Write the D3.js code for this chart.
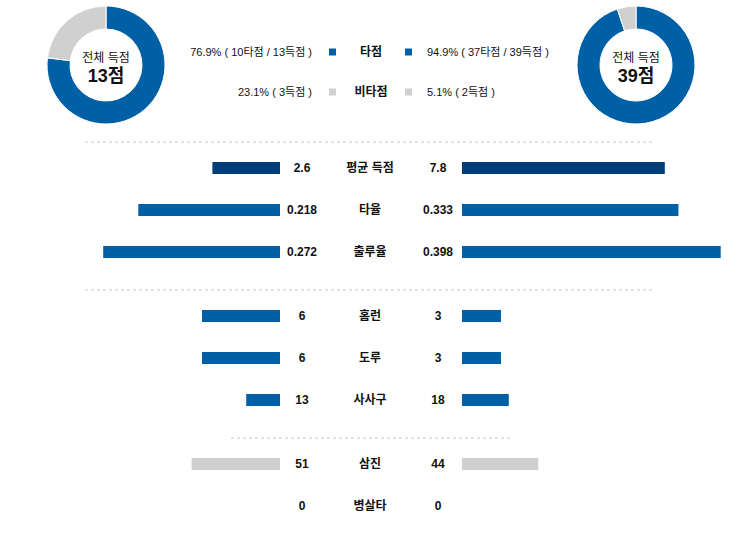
<!DOCTYPE html>
<html lang="ko">
<head>
<meta charset="UTF-8">
<script src="https://cdn.jsdelivr.net/npm/d3@7"></script>
<style>
    body { margin: 0; background: #fff; }
    svg text { font-family: "Liberation Sans", "Noto Sans CJK KR", sans-serif; fill: #111; }
    .val, .lbl { font-size: 12px; font-weight: bold; }
    .leg { font-size: 11px; }
</style>
</head>
<body>
<svg id="chart" width="744" height="560"></svg>
<script>
    // donut data: 타점 / 비타점 per team
    const leftPie = [10, 3];
    const rightPie = [37, 2];
    const leftTotal = 13, rightTotal = 39;
    const legendNames = ["타점", "비타점"];
    const leftLegend = ["76.9% ( 10타점 / 13득점 )", "23.1% ( 3득점 )"];
    const rightLegend = ["94.9% ( 37타점 / 39득점 )", "5.1% ( 2득점 )"];

    // comparison rows
    const labels = ["평균 득점", "타율", "출루율", "홈런", "도루", "사사구", "삼진", "병살타"];
    const leftVals = [2.6, 0.218, 0.272, 6, 6, 13, 51, 0];
    const rightVals = [7.8, 0.333, 0.398, 3, 3, 18, 44, 0];
    const formats = [".1f", ".3f", ".3f", "d", "d", "d", "d", "d"];
    const maxVals = [10, 0.4, 0.4, 20, 20, 100, 150, 150];
    const groups = [0, 0, 0, 1, 1, 1, 2, 2];

    const blue = "#0060a5", navy = "#003e77", gray = "#d0d0d0";
    const rowColors = [navy, blue, blue, blue, blue, blue, gray, gray];

    const svg = d3.select("#chart");

    // donuts
    const pie = d3.pie().sort(null);
    const arc = d3.arc().innerRadius(36).outerRadius(59);

    function donut(cx, values, total) {
        const g = svg.append("g").attr("transform", `translate(${cx},65)`);
        g.selectAll("path")
            .data(pie(values))
            .join("path")
            .attr("d", arc)
            .attr("fill", (d, i) => i === 0 ? blue : gray)
            .attr("stroke", "#fff")
            .attr("stroke-width", 1);
        g.append("text").attr("text-anchor", "middle").attr("y", -3)
            .style("font-size", "12px").text("전체 득점");
        g.append("text").attr("text-anchor", "middle").attr("y", 17)
            .style("font-size", "18px").style("font-weight", "bold").text(total + "점");
    }
    donut(106, leftPie, leftTotal);
    donut(636, rightPie, rightTotal);

    // legend in the middle
    legendNames.forEach((name, i) => {
        const y = 52 + i * 40;
        const c = i === 0 ? blue : gray;
        svg.append("text").attr("class", "leg").attr("x", 312).attr("y", y + 4)
            .attr("text-anchor", "end").text(leftLegend[i]);
        svg.append("rect").attr("x", 329).attr("y", y - 3.5).attr("width", 7).attr("height", 7).attr("fill", c);
        svg.append("text").attr("class", "lbl").attr("x", 371).attr("y", y + 4)
            .attr("text-anchor", "middle").text(name);
        svg.append("rect").attr("x", 405).attr("y", y - 3.5).attr("width", 7).attr("height", 7).attr("fill", c);
        svg.append("text").attr("class", "leg").attr("x", 427).attr("y", y + 4).text(rightLegend[i]);
    });

    // dotted separators
    const seps = [[142, 85, 653], [290, 85, 653], [438, 231, 513]];
    svg.selectAll("line.sep")
        .data(seps)
        .join("line")
        .attr("class", "sep")
        .attr("x1", d => d[1]).attr("x2", d => d[2])
        .attr("y1", d => d[0]).attr("y2", d => d[0])
        .attr("stroke", "#e3e3e3")
        .attr("stroke-width", 2)
        .attr("stroke-dasharray", "3,3");

    // rows
    const rowY = i => 168 + i * 42 + groups[i] * 22;
    const barH = 12;
    const leftEdge = 280, rightEdge = 462, barW = 260;

    labels.forEach((label, i) => {
        const x = d3.scaleLinear().domain([0, maxVals[i]]).range([0, barW]);
        const y = rowY(i);
        const fmt = d3.format(formats[i]);

        if (leftVals[i] > 0) {
            svg.append("rect")
                .attr("x", leftEdge - x(leftVals[i]))
                .attr("y", y - barH / 2)
                .attr("width", x(leftVals[i]))
                .attr("height", barH)
                .attr("fill", rowColors[i]);
        }
        if (rightVals[i] > 0) {
            svg.append("rect")
                .attr("x", rightEdge)
                .attr("y", y - barH / 2)
                .attr("width", x(rightVals[i]))
                .attr("height", barH)
                .attr("fill", rowColors[i]);
        }
        svg.append("text").attr("class", "val").attr("x", 302).attr("y", y + 4)
            .attr("text-anchor", "middle").text(fmt(leftVals[i]));
        svg.append("text").attr("class", "lbl").attr("x", 370).attr("y", y + 4)
            .attr("text-anchor", "middle").text(label);
        svg.append("text").attr("class", "val").attr("x", 438).attr("y", y + 4)
            .attr("text-anchor", "middle").text(fmt(rightVals[i]));
    });
</script>
</body>
</html>
